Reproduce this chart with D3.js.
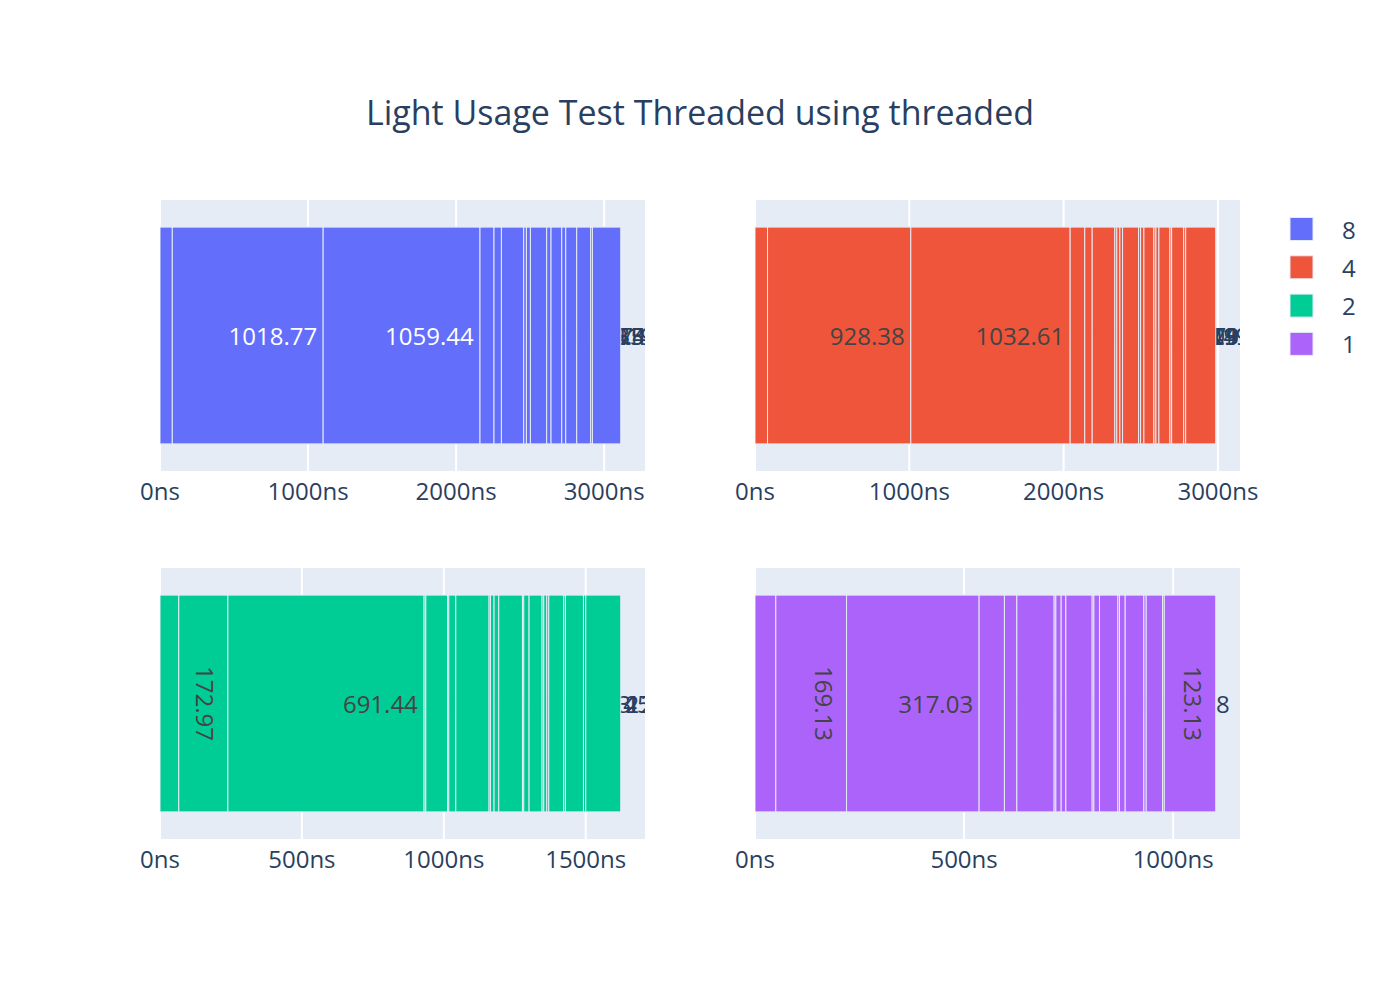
<!DOCTYPE html>
<html><head><meta charset="utf-8">
<script src="https://cdn.jsdelivr.net/npm/d3@7"></script>
<style>body{margin:0;background:#fff} svg{display:block} text{font-family:"Open Sans",sans-serif}</style>
</head><body>
<svg id="chart" width="1400" height="1000"></svg>
<script>
const chartTitle = "Light Usage Test Threaded using threaded";
const threadCounts = ["8", "4", "2", "1"];
const threadColors = ["#636efa", "#EF553B", "#00cc96", "#ab63fa"];
const durations8 = [83.12, 1018.77, 1059.44, 94.61, 50.02, 150.68, 18.24, 27.03, 110.09, 29.12, 72.31, 26.97, 74.33, 94.58, 11.49, 191.21];
const durations4 = [81.21, 928.38, 1032.61, 94.83, 48.04, 146.79, 13.02, 19.49, 17.53, 103.88, 13.04, 21.39, 64.92, 13.01, 19.47, 71.44, 11.03, 77.91, 12.98, 194.84];
const durations2 = [66.21, 172.97, 691.44, 6.02, 76.41, 4.63, 24.58, 117.31, 4.92, 12.67, 16.54, 83.47, 4.61, 18.72, 45.78, 6.03, 10.56, 7.04, 52.83, 6.01, 63.45, 8.12, 123.24];
const durations1 = [49.81, 169.13, 317.03, 60.52, 29.71, 89.23, 4.07, 12.68, 11.24, 62.91, 4.09, 13.42, 44.03, 3.83, 13.61, 44.72, 5.53, 39.08, 4.11, 123.13];
const ticks8 = [0, 1000, 2000, 3000];
const ticks4 = [0, 1000, 2000, 3000];
const ticks2 = [0, 500, 1000, 1500];
const ticks1 = [0, 500, 1000];
const tickSuffix = "ns";

const panels = [
  {data: durations8, ticks: ticks8, series: 0, box: [160, 645, 200, 471]},
  {data: durations4, ticks: ticks4, series: 1, box: [755, 1240, 200, 471]},
  {data: durations2, ticks: ticks2, series: 2, box: [160, 645, 568, 839]},
  {data: durations1, ticks: ticks1, series: 3, box: [755, 1240, 568, 839]}
];

const FONT_COLOR = "#2a3f5f";
const BG = "#E5ECF6";
const TEXTPAD = 6;
const svg = d3.select("#chart");
svg.append("rect").attr("width", 1400).attr("height", 1000).attr("fill", "#fff");
const defs = svg.append("defs");

function contrast(c) {
  const r = d3.rgb(c);
  const br = (r.r * 299 + r.g * 587 + r.b * 114) / 1000;
  return br < 128 ? "#ffffff" : "#444444";
}

panels.forEach((p, pi) => {
  const [L, R, T, B] = p.box;
  const color = threadColors[p.series];
  const total = d3.sum(p.data);
  const x = d3.scaleLinear().domain([0, total / 0.95]).range([L, R]);
  const y = d3.scaleBand().domain(["run"]).range([T, B]).paddingInner(0.2).paddingOuter(0.1);

  svg.append("rect").attr("x", L).attr("y", T).attr("width", R - L).attr("height", B - T).attr("fill", BG);
  defs.append("clipPath").attr("id", "clip" + pi)
    .append("rect").attr("x", L).attr("y", T).attr("width", R - L).attr("height", B - T);

  svg.append("g").selectAll("line").data(p.ticks).join("line")
    .attr("x1", d => x(d)).attr("x2", d => x(d)).attr("y1", T).attr("y2", B)
    .attr("stroke", "#fff").attr("stroke-width", 2);

  svg.append("g").selectAll("text").data(p.ticks).join("text")
    .attr("x", d => x(d)).attr("y", B + 19)
    .attr("text-anchor", "middle").attr("dominant-baseline", "central")
    .attr("font-size", 24).attr("fill", FONT_COLOR)
    .text(d => d + tickSuffix);

  const g = svg.append("g").attr("clip-path", `url(#clip${pi})`);
  const ends = Array.from(d3.cumsum(p.data));
  const by0 = y("run"), by1 = by0 + y.bandwidth();
  p.data.forEach((v, i) => {
    const s = i === 0 ? 0 : ends[i - 1];
    const gx0 = x(s), gx1 = x(ends[i]);
    const pt = g.append("g");
    pt.append("rect").attr("x", gx0).attr("y", by0).attr("width", gx1 - gx0).attr("height", by1 - by0)
      .attr("fill", color).attr("stroke", BG).attr("stroke-width", 1);
    const t = pt.append("text").attr("font-size", 24).text(String(v));
    const bb = t.node().getBBox();
    const bcx = bb.x + bb.width / 2, bcy = bb.y + bb.height / 2;
    const lx = gx1 - gx0, ly = by1 - by0;
    const bw = lx - 2 * TEXTPAD, bh = ly - 2 * TEXTPAD;
    const cy = (by0 + by1) / 2;
    if (bb.width <= bw && bb.height <= bh) {
      // inside, anchored at the bar end
      const cx = gx1 - TEXTPAD - bb.width / 2;
      t.attr("fill", contrast(color)).attr("transform", `translate(${cx - bcx},${cy - bcy})`);
    } else if (bb.width <= bh && bb.height <= bw) {
      const cx = gx1 - TEXTPAD - bb.height / 2;
      t.attr("fill", contrast(color)).attr("transform", `translate(${cx},${cy}) rotate(90) translate(${-bcx},${-bcy})`);
    } else {
      t.attr("fill", FONT_COLOR).attr("transform", `translate(${gx1 + TEXTPAD - bb.x},${cy - bcy})`);
    }
  });
});

svg.append("text").attr("x", 700).attr("y", 112).attr("text-anchor", "middle").attr("dominant-baseline", "central")
  .attr("font-size", 34).attr("fill", FONT_COLOR).text(chartTitle);

const leg = svg.append("g").selectAll("g").data(threadCounts).join("g")
  .attr("transform", (d, i) => `translate(1290,${229 + i * 38.3})`);
leg.append("rect").attr("x", 0).attr("y", -11.5).attr("width", 23).attr("height", 23)
  .attr("fill", (d, i) => threadColors[i]).attr("stroke", BG).attr("stroke-width", 1);
leg.append("text").attr("x", 52).attr("y", 0).attr("dominant-baseline", "central")
  .attr("font-size", 24).attr("fill", FONT_COLOR).text(d => d);
</script>
</body></html>
